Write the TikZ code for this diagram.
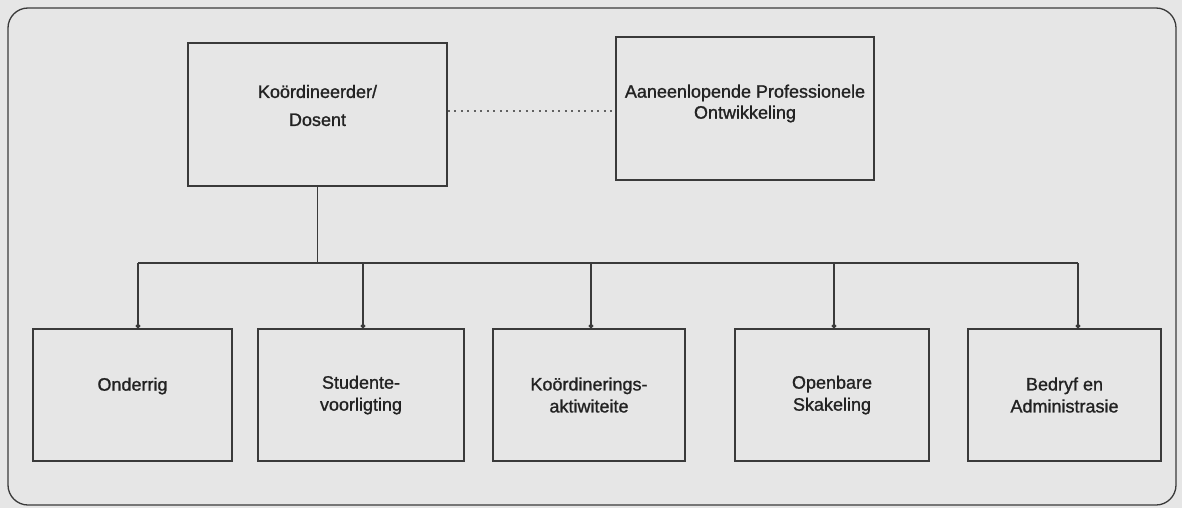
\documentclass[tikz,border=0pt]{standalone}
\usepackage{fontspec}
\setmainfont{Liberation Sans}[FakeBold=1.2]
\usetikzlibrary{arrows.meta,calc}
\definecolor{paper}{HTML}{E6E6E6}
\definecolor{ink}{HTML}{3A3A3A}
\definecolor{txt}{HTML}{222222}
\tikzset{
  orgbox/.style={draw=ink, line width=1.5pt, rectangle, inner sep=0pt},
  lbl/.style={text=txt, align=center, font=\fontsize{18}{22}\selectfont},
  link/.style={draw=ink, line width=1.5pt},
  drop/.style={link, -{Circle[length=4.5pt]}},
  dotline/.style={draw=ink!80, line width=1.2pt, dash pattern=on 2pt off 4.5pt},
}
\begin{document}
\begin{tikzpicture}[x=1pt,y=-1pt]
\useasboundingbox (0,0) rectangle (1182,508);
\fill[paper] (0,0) rectangle (1182,508);
\draw[ink, line width=1.3pt, rounded corners=20pt] (8,8) rectangle (1176,505);

% top boxes
\node[orgbox, minimum width=259pt, minimum height=143pt] (k) at (317.5,114.5) {};
\node[lbl, font=\fontsize{18}{28}\selectfont] (kt) at ([yshift=9pt]k.center) {Koördineerder/\\Dosent};
\node[orgbox, minimum width=258pt, minimum height=143pt] (p) at (745,108.5) {};
\node[lbl, font=\fontsize{18}{21}\selectfont] (pt) at ([yshift=5pt]p.center) {Aaneenlopende Professionele\\Ontwikkeling};

% bottom boxes
\node[orgbox, minimum width=199pt, minimum height=132pt] (b1) at (132.5,395) {};
\node[orgbox, minimum width=206pt, minimum height=132pt] (b2) at (361,395) {};
\node[orgbox, minimum width=192pt, minimum height=132pt] (b3) at (589,395) {};
\node[orgbox, minimum width=194pt, minimum height=132pt] (b4) at (832,395) {};
\node[orgbox, minimum width=193pt, minimum height=132pt] (b5) at (1064.5,395) {};
\node[lbl] (t1) at ([yshift=9pt]b1.center) {Onderrig};
\node[lbl] (t2) at ([yshift=0pt]b2.center) {Studente-\\voorligting};
\node[lbl] (t3) at ([yshift=0pt]b3.center) {Koördinerings-\\aktiwiteite};
\node[lbl] (t4) at ([yshift=0pt]b4.center) {Openbare\\Skakeling};
\node[lbl] (t5) at ([yshift=0pt]b5.center) {Bedryf en\\Administrasie};

% bus junctions
\coordinate (j1) at (138,263);
\coordinate (j2) at (363,263);
\coordinate (j3) at (591,263);
\coordinate (j4) at (834,263);
\coordinate (j5) at (1078,263);

% connectors
\draw[dotline] (k.east |- 0,111) -- (p.west |- 0,111);
\draw[link] (k.south) -- (k.south |- j1);
\draw[link] (j1) -- (j5);
\draw[drop] (j1) -- (j1 |- b1.north);
\draw[drop] (j2) -- (j2 |- b2.north);
\draw[drop] (j3) -- (j3 |- b3.north);
\draw[drop] (j4) -- (j4 |- b4.north);
\draw[drop] (j5) -- (j5 |- b5.north);
\end{tikzpicture}
\end{document}
